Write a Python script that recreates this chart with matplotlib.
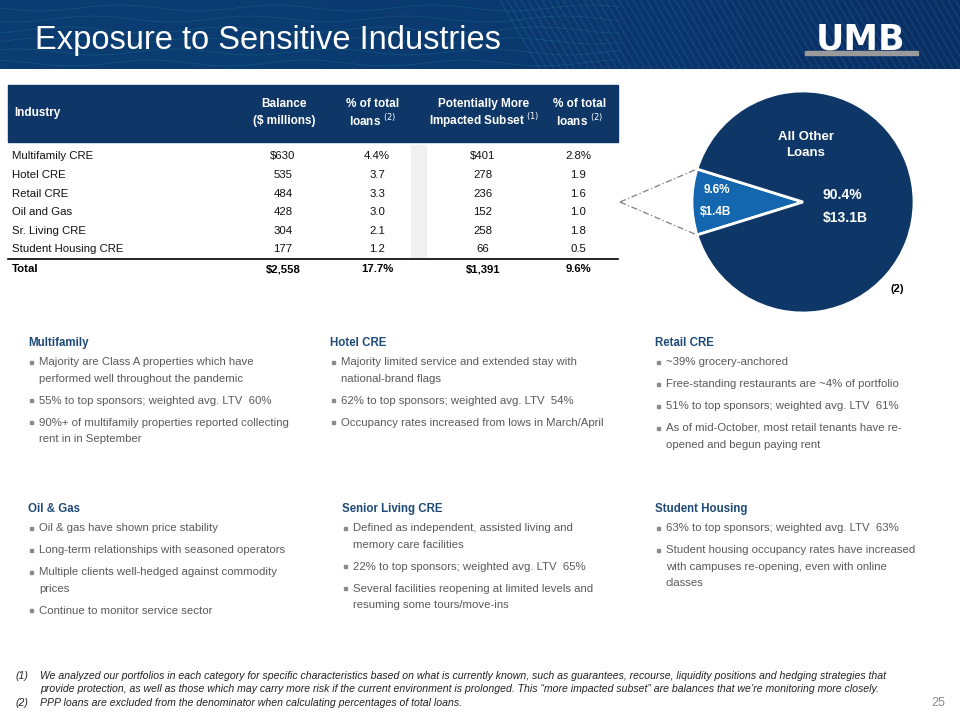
import matplotlib.pyplot as plt
import numpy as np
from matplotlib.patches import Rectangle
from matplotlib.colors import LinearSegmentedColormap

plt.rcParams['font.family'] = ['Liberation Sans', 'DejaVu Sans']

# ---- data ----
industries = ['Multifamily CRE', 'Hotel CRE', 'Retail CRE', 'Oil and Gas',
              'Sr. Living CRE', 'Student Housing CRE']
balance = ['$630', '535', '484', '428', '304', '177']
pct_total = ['4.4%', '3.7', '3.3', '3.0', '2.1', '1.2']
subset = ['$401', '278', '236', '152', '258', '66']
pct_subset = ['2.8%', '1.9', '1.6', '1.0', '1.8', '0.5']
total_row = ['Total', '$2,558', '17.7%', '$1,391', '9.6%']

pie_values = [9.6, 90.4]
pie_pct = ['9.6%', '90.4%']
pie_amt = ['$1.4B', '$13.1B']

blocks = [
    ('Multifamily', [['Majority are Class A properties which have', 'performed well throughout the pandemic'],
                     ['55% to top sponsors; weighted avg. LTV  60%'],
                     ['90%+ of multifamily properties reported collecting', 'rent in in September']]),
    ('Hotel CRE', [['Majority limited service and extended stay with', 'national-brand flags'],
                   ['62% to top sponsors; weighted avg. LTV  54%'],
                   ['Occupancy rates increased from lows in March/April']]),
    ('Retail CRE', [['~39% grocery-anchored'],
                    ['Free-standing restaurants are ~4% of portfolio'],
                    ['51% to top sponsors; weighted avg. LTV  61%'],
                    ['As of mid-October, most retail tenants have re-', 'opened and begun paying rent']]),
    ('Oil & Gas', [['Oil & gas have shown price stability'],
                   ['Long-term relationships with seasoned operators'],
                   ['Multiple clients well-hedged against commodity', 'prices'],
                   ['Continue to monitor service sector']]),
    ('Senior Living CRE', [['Defined as independent, assisted living and', 'memory care facilities'],
                           ['22% to top sponsors; weighted avg. LTV  65%'],
                           ['Several facilities reopening at limited levels and', 'resuming some tours/move-ins']]),
    ('Student Housing', [['63% to top sponsors; weighted avg. LTV  63%'],
                         ['Student housing occupancy rates have increased', 'with campuses re-opening, even with online', 'classes']]),
]

footnotes = [
    ('(1)', ['We analyzed our portfolios in each category for specific characteristics based on what is currently known, such as guarantees, recourse, liquidity positions and hedging strategies that',
             'provide protection, as well as those which may carry more risk if the current environment is prolonged. This \u201cmore impacted subset\u201d are balances that we\u2019re monitoring more closely.']),
    ('(2)', ['PPP loans are excluded from the denominator when calculating percentages of total loans.']),
]

NAVY = '#0e3767'
LIGHT = '#1467ae'
HEAD = '#1f4a78'
GREY = '#5a5a5a'

fig = plt.figure(figsize=(9.6, 7.2), dpi=100)
ax = fig.add_axes([0, 0, 1, 1])
ax.set_xlim(0, 960)
ax.set_ylim(720, 0)
ax.axis('off')
ax.set_zorder(3)

# ---- header band ----
grad = np.linspace(0, 1, 256).reshape(1, -1)
band = LinearSegmentedColormap.from_list('band', ['#0b3d73', '#0a3a70', '#0b2f63'])
ax.imshow(grad, extent=[0, 960, 69, 0], cmap=band, aspect='auto', zorder=0)
for x0 in np.arange(500, 1000, 7):
    ax.plot([x0, x0 + 40], [0, 69], color='#2c6db0', lw=0.6, alpha=0.45, zorder=1)
xs = np.linspace(0, 620, 250)
for k in range(6):
    ax.plot(xs, 8 + k * 11 + 3 * np.sin(xs / 25 + k), color='#1d8a8a', lw=0.5, alpha=0.35, zorder=1)
ax.text(35, 40, 'Exposure to Sensitive Industries', color='white', fontsize=23.5,
        va='center', ha='left', zorder=3)
ax.text(861, 39, 'UMB', color='white', fontsize=25, fontweight='bold', family='DejaVu Sans',
        ha='center', va='center', zorder=3)
ax.add_patch(Rectangle((805, 51), 113, 3.5, color='#9a9a9a', zorder=3))

# ---- table ----
ax.add_patch(Rectangle((8, 85), 610, 57, color=NAVY, zorder=1))
ax.add_patch(Rectangle((411, 145), 15, 113, color='#f0f0f0', zorder=1))
hfs = 8.5
ax.text(14, 113, 'Industry', color='white', fontsize=hfs, fontweight='bold', va='center')
col_x = [284, 373, 484, 580]
headers = [('Balance', '($ millions)'), ('% of total', 'loans $^{(2)}$'),
           ('Potentially More', 'Impacted Subset $^{(1)}$'), ('% of total', 'loans $^{(2)}$')]
for cx, (l1, l2) in zip(col_x, headers):
    ax.text(cx, 104, l1, color='white', fontsize=hfs, fontweight='bold', ha='center', va='center')
    ax.text(cx, 121, l2, color='white', fontsize=hfs, fontweight='bold', ha='center', va='center')

row_y = [156, 175, 194, 212, 231, 249]
vcol_x = [283, 377, 483, 578]
tfs = 8.2
for i, y in enumerate(row_y):
    ax.text(12, y, industries[i], fontsize=tfs, color='#111111', va='center')
    for cx, v in zip(vcol_x, [balance[i], pct_total[i], subset[i], pct_subset[i]]):
        ax.text(cx, y, v, fontsize=tfs, color='#111111', ha='center', va='center')
ax.plot([8, 618], [259, 259], color='black', lw=1.2)
ax.text(12, 269, total_row[0], fontsize=tfs, fontweight='bold', va='center')
for cx, v in zip(vcol_x, total_row[1:]):
    ax.text(cx, 269, v, fontsize=tfs, fontweight='bold', ha='center', va='center')

# ---- pie ----
pcx, pcy, pr = 803, 202, 111
pax = fig.add_axes([(pcx - pr) / 960, (720 - pcy - pr) / 720, 2 * pr / 960, 2 * pr / 720])
pax.set_zorder(1)
half = pie_values[0] / sum(pie_values) * 180
pax.pie(pie_values, colors=[LIGHT, NAVY], startangle=180 - half, counterclock=True,
        wedgeprops=dict(edgecolor='white', linewidth=2))
pax.set_xlim(-1, 1)
pax.set_ylim(-1, 1)
pax.set_aspect('auto')
pax.axis('off')

for sgn in (1, -1):
    ang = np.deg2rad(180 - sgn * half)
    ax.plot([620, pcx + pr * np.cos(ang)], [202, pcy - pr * np.sin(ang)],
            color='#7f7f7f', lw=0.9, ls=(0, (5, 2, 1, 2)), zorder=5)

ax.text(806, 137, 'All Other', color='white', fontsize=9.5, fontweight='bold',
        ha='center', va='center', zorder=6)
ax.text(806, 153, 'Loans', color='white', fontsize=9.5, fontweight='bold',
        ha='center', va='center', zorder=6)
ax.text(842, 195, pie_pct[1], color='white', fontsize=10, fontweight='bold', ha='center', va='center', zorder=6)
ax.text(845, 218, pie_amt[1], color='white', fontsize=10, fontweight='bold', ha='center', va='center', zorder=6)
ax.text(717, 190, pie_pct[0], color='white', fontsize=8.5, fontweight='bold', ha='center', va='center', zorder=6)
ax.text(716, 212, pie_amt[0], color='white', fontsize=8.5, fontweight='bold', ha='center', va='center', zorder=6)
ax.text(897, 289, '(2)', color='black', fontsize=8, fontweight='bold', ha='center', va='center', zorder=6)

# ---- text blocks ----
block_pos = [(28, 343), (330, 343), (655, 343), (28, 509), (342, 509), (655, 509)]
for (bx, by), (title, bullets) in zip(block_pos, blocks):
    ax.text(bx, by, title, color=HEAD, fontsize=8.3, fontweight='bold', va='center')
    y = by + 19
    for lines in bullets:
        ax.add_patch(Rectangle((bx + 2, y - 1.5), 3, 3, color='#8a8a8a'))
        for line in lines:
            ax.text(bx + 11, y, line, color=GREY, fontsize=8.2, va='center')
            y += 16.5
        y += 5.5

# ---- footnotes ----
fy = 676
for tag, lines in footnotes:
    ax.text(15, fy, tag, fontsize=7.6, style='italic', color='#222222', va='center')
    for line in lines:
        ax.text(40, fy, line, fontsize=7.6, style='italic', color='#222222', va='center')
        fy += 13.5
ax.text(945, 703, '25', fontsize=9, color='#8c8c8c', ha='right', va='center')

fig.savefig('out.png', dpi=100)
